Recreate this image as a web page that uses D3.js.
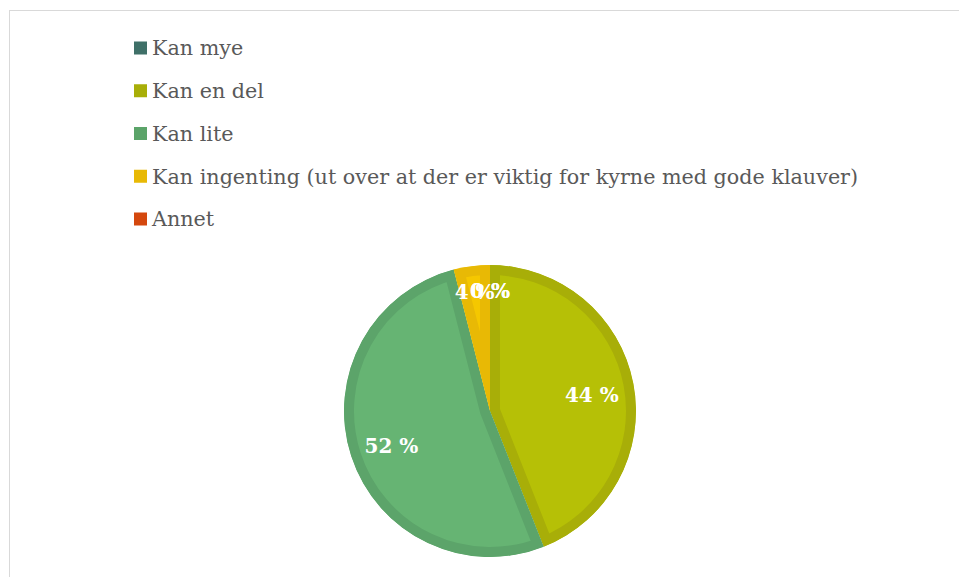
<!DOCTYPE html>
<html>
<head>
<meta charset="utf-8">
<script src="https://cdn.jsdelivr.net/npm/d3@7"></script>
<style>
  html, body { margin: 0; padding: 0; background: #fff; }
  svg { display: block; }
</style>
</head>
<body>
<svg id="chart" width="959" height="577"></svg>
<script>
// Categories and their shares (per cent)
const categories = [
  "Kan mye",
  "Kan en del",
  "Kan lite",
  "Kan ingenting (ut over at der er viktig for kyrne med gode klauver)",
  "Annet"
];
const values = [0, 44, 52, 4, 0];
const fillColors   = ["#3f7068", "#b6c006", "#66b473", "#f5c700", "#d4480e"];
const borderColors = ["#3a665f", "#a8ae08", "#5ca46a", "#e8b905", "#c8420c"];
const legendColors = ["#3f7068", "#a8ae08", "#5ba469", "#e8b905", "#d4480e"];

const svg = d3.select("#chart");

// Chart frame
svg.append("rect")
  .attr("x", 9.5).attr("y", 10.5)
  .attr("width", 1000).attr("height", 600)
  .attr("fill", "none").attr("stroke", "#d9d9d9").attr("stroke-width", 1);

// Legend
const legendY = d3.scalePoint().domain(d3.range(categories.length)).range([48, 219]);
const legend = svg.append("g");
const item = legend.selectAll("g").data(categories).join("g")
  .attr("transform", (d, i) => `translate(134,${legendY(i)})`);
item.append("rect")
  .attr("x", 0).attr("y", -6.5).attr("width", 13).attr("height", 13)
  .attr("fill", (d, i) => legendColors[i]);
item.append("text")
  .attr("x", 18).attr("y", 0).attr("dy", "0.35em")
  .attr("font-family", "'DejaVu Serif', Georgia, serif")
  .attr("font-size", 20.7)
  .attr("fill", "#595959")
  .text(d => d);

// Pie
const cx = 490, cy = 411, R = 146;
const pie = d3.pie().sort(null).value(d => d)(values);
const arc = d3.arc().innerRadius(0).outerRadius(R);
const g = svg.append("g").attr("transform", `translate(${cx},${cy})`);
const defs = svg.append("defs");
const visible = pie.filter(p => p.endAngle - p.startAngle > 0);

// Each slice keeps its darker edge inside its own outline
visible.forEach(p => {
  defs.append("clipPath").attr("id", "slice-clip-" + p.index)
    .append("path").attr("d", arc(p));
});

g.selectAll("path.slice").data(visible).join("path")
  .attr("class", "slice")
  .attr("d", arc)
  .attr("fill", d => fillColors[d.index])
  .attr("stroke", d => borderColors[d.index])
  .attr("stroke-width", 20)
  .attr("stroke-linejoin", "miter")
  .attr("clip-path", d => `url(#slice-clip-${d.index})`);

// Data labels
const labelArcBig = d3.arc().innerRadius(R * 0.71).outerRadius(R * 0.71);
const labelArcSmall = d3.arc().innerRadius(R * 0.84).outerRadius(R * 0.84);
const labels = svg.append("g").attr("transform", `translate(${cx},${cy})`);
labels.selectAll("text").data(pie).join("text")
  .attr("transform", d => {
    const share = (d.endAngle - d.startAngle) / (2 * Math.PI);
    const c = (share < 0.1 ? labelArcSmall : labelArcBig).centroid(d);
    return `translate(${c[0]},${c[1] + 3})`;
  })
  .attr("text-anchor", "middle")
  .attr("dy", "0.35em")
  .attr("font-family", "'DejaVu Serif', Georgia, serif")
  .attr("font-weight", "bold")
  .attr("font-size", 20)
  .attr("fill", "#ffffff")
  .text(d => d.data + " %");
</script>
</body>
</html>
